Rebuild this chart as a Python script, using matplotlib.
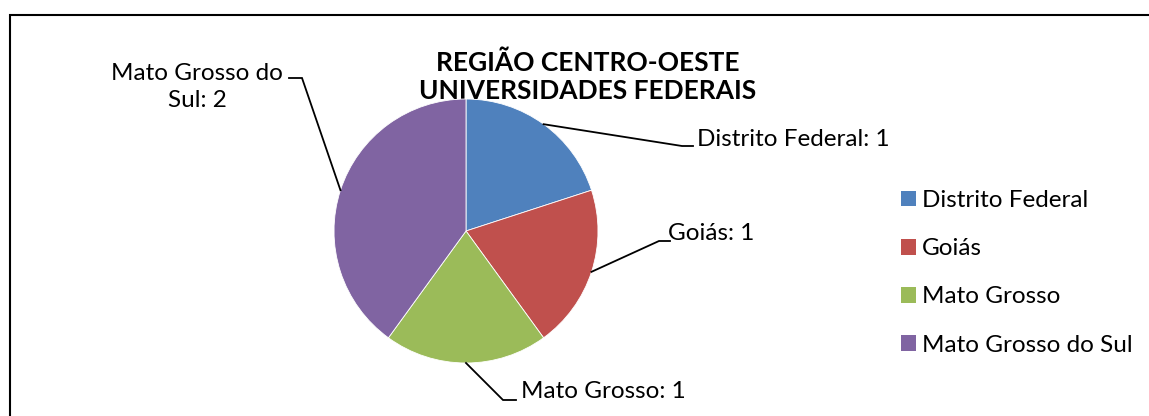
import matplotlib
matplotlib.use("Agg")
import matplotlib.pyplot as plt
from matplotlib.patches import Patch, Rectangle
import numpy as np

plt.rcParams['font.family'] = ['Lato', 'DejaVu Sans']

TITLE = 'REGIÃO CENTRO-OESTE\nUNIVERSIDADES FEDERAIS'
STATES = ['Distrito Federal', 'Goiás', 'Mato Grosso', 'Mato Grosso do Sul']
COUNTS = [1, 1, 1, 2]
COLORS = ['#4F81BD', '#C0504D', '#9BBB59', '#8064A2']

W, H = 1149, 416


def flip(y):
    """Convert a top-down pixel row into axes y."""
    return H - y


# label anchor (end of leader line), elbow point, text alignment
LABEL_LAYOUT = [
    dict(end=(693, 146), elbow=(682, 146), ha='left', text_xy=(697, 140)),
    dict(end=(670, 241), elbow=(659, 241), ha='left', text_xy=(668, 234)),
    dict(end=(516, 400), elbow=(503, 400), ha='left', text_xy=(521, 391)),
    dict(end=(289, 78), elbow=(302, 78), ha='center', text_xy=(197, 87)),
]


def main():
    fig = plt.figure(figsize=(W / 100, H / 100), dpi=100)
    ax = fig.add_axes([0, 0, 1, 1])

    cx, cy, r = 466, flip(231), 132
    wedges, _ = ax.pie(COUNTS, colors=COLORS, startangle=90, counterclock=False,
                       center=(cx, cy), radius=r,
                       wedgeprops=dict(linewidth=0.6, edgecolor='white'))

    ax.set_xlim(0, W)
    ax.set_ylim(0, H)
    ax.set_aspect('equal')
    ax.axis('off')

    # chart border (only left and top edges are visible in the crop)
    ax.add_patch(Rectangle((9.5, -20), W + 20, flip(14.5) + 20, fill=False,
                           edgecolor='black', linewidth=1.5, zorder=0))

    # data labels with leader lines
    for wedge, name, count, lay in zip(wedges, STATES, COUNTS, LABEL_LAYOUT):
        mid = np.deg2rad((wedge.theta1 + wedge.theta2) / 2)
        px, py = cx + r * np.cos(mid), cy + r * np.sin(mid)
        ex, ey = lay['elbow']
        nx, ny = lay['end']
        ax.plot([px, ex, nx], [py, flip(ey), flip(ny)], color='black', lw=1.3,
                solid_joinstyle='miter')
        label = f'{name}: {count}'
        if name == 'Mato Grosso do Sul':
            label = 'Mato Grosso do\nSul: 2'
        tx, ty = lay['text_xy']
        ax.text(tx, flip(ty), label, ha=lay['ha'], va='center', fontsize=17.5,
                linespacing=1.35)

    # title drawn beneath the pie
    ax.text(588, flip(77), TITLE, ha='center', va='center', fontsize=19,
            fontweight='bold', linespacing=1.2, zorder=0.5)
    for w in wedges:
        w.set_zorder(1)

    handles = [Patch(facecolor=c, edgecolor='none') for c in COLORS]
    ax.legend(handles, STATES, loc='upper left', bbox_to_anchor=(901 / W, flip(190) / H),
              frameon=False, fontsize=17.5, handlelength=0.62, handleheight=0.62,
              handletextpad=0.25, labelspacing=1.12, borderpad=0, borderaxespad=0)

    fig.savefig('out.png', dpi=100)


if __name__ == "__main__":
    main()
